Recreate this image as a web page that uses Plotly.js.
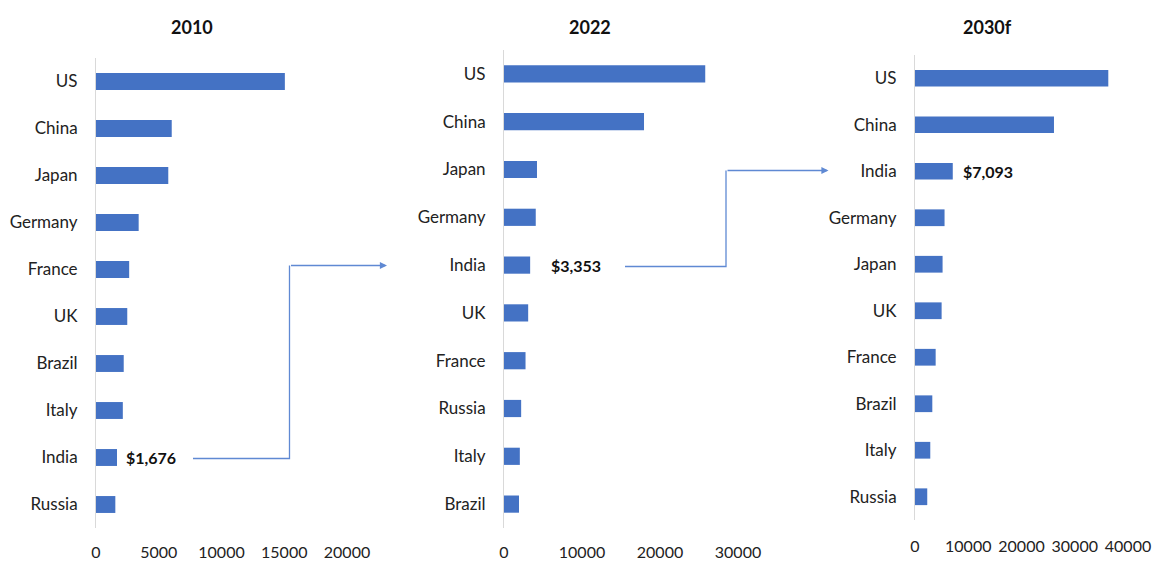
<!DOCTYPE html>
<html>
<head>
<meta charset="utf-8">
<script src="https://cdn.plot.ly/plotly-3.0.1.min.js"></script>
<style>html,body{margin:0;padding:0;background:#fff;}#chart{width:1152px;height:561px;}</style>
</head>
<body>
<div id="chart"></div>
<script>
// ---- data ----
const countries2010 = ["US","China","Japan","Germany","France","UK","Brazil","Italy","India","Russia"];
const gdp2010 = [15049, 6034, 5759, 3400, 2643, 2491, 2209, 2137, 1676, 1540];

const countries2022 = ["US","China","Japan","Germany","India","UK","France","Russia","Italy","Brazil"];
const gdp2022 = [25800, 17950, 4230, 4070, 3353, 3100, 2760, 2200, 2030, 1920];

const countries2030 = ["US","China","India","Germany","Japan","UK","France","Brazil","Italy","Russia"];
const gdp2030 = [36300, 26100, 7093, 5550, 5180, 5000, 3880, 3250, 2870, 2300];

const panelTitles = ["2010","2022","2030f"];
const xTicks2010 = [0,5000,10000,15000,20000];
const xTicks2022 = [0,10000,20000,30000];
const xTicks2030 = [0,10000,20000,30000,40000];

// ---- layout helpers ----
const W = 1152, H = 561;
const px = v => v / W;
const py = v => 1 - v / H;
const FONT = "Lato, 'Open Sans', sans-serif";
const BAR = "#4472C4";
const LINE = "#5f89d3";

function barTrace(cats, vals, xa, ya) {
  return {type:"bar", orientation:"h", x: vals, y: cats, xaxis: xa, yaxis: ya,
          marker:{color:BAR}, hoverinfo:"x+y", showlegend:false};
}

const data = [
  barTrace(countries2010, gdp2010, "x", "y"),
  barTrace(countries2022, gdp2022, "x2", "y2"),
  barTrace(countries2030, gdp2030, "x3", "y3")
];

function xAxis(dom, anchor, ticks, maxv, standoff) {
  return {domain: dom, anchor: anchor, range:[0, maxv], tickvals: ticks, ticktext: ticks.map(String),
          showgrid:false, zeroline:false, showline:false, ticks:"", ticklabelstandoff: standoff,
          tickfont:{family:FONT, size:16, color:"#222"}, fixedrange:true};
}
function yAxis(dom, anchor, cats) {
  return {domain: dom, anchor: anchor, type:"category", categoryorder:"array", categoryarray: cats,
          autorange:"reversed", showgrid:false, zeroline:false, showline:true, linecolor:"#d9d9d9", linewidth:1,
          ticks:"", ticklabelstandoff: 14, tickfont:{family:FONT, size:17, color:"#222"}, fixedrange:true};
}

const titleXs = [192, 590, 987];
const annotations = panelTitles.map((t,i) => ({
  text: "<b>"+t+"</b>", xref:"paper", yref:"paper", x: px(titleXs[i]), y: py(27),
  xanchor:"center", yanchor:"middle", showarrow:false, font:{family:FONT, size:18, color:"#111"}
}));

// value labels for India
annotations.push({text:"<b>$1,676</b>", xref:"x", yref:"y", x: gdp2010[countries2010.indexOf("India")], y:"India",
  xanchor:"left", yanchor:"middle", xshift:7, showarrow:false, font:{family:FONT, size:16, color:"#111"}});
annotations.push({text:"<b>$3,353</b>", xref:"x2", yref:"y2", x: gdp2022[countries2022.indexOf("India")], y:"India",
  xanchor:"left", yanchor:"middle", xshift:19, showarrow:false, font:{family:FONT, size:16, color:"#111"}});
annotations.push({text:"<b>$7,093</b>", xref:"x3", yref:"y3", x: gdp2030[countries2030.indexOf("India")], y:"India",
  xanchor:"left", yanchor:"middle", xshift:8, showarrow:false, font:{family:FONT, size:16, color:"#111"}});

// connector arrowheads (last segment)
annotations.push({text:"", xref:"paper", yref:"paper", x: px(387), y: py(265.5), ax: -97.5, ay: 0,
  showarrow:true, arrowhead:2, arrowsize:1.1, arrowwidth:1.3, arrowcolor:LINE, standoff:0});
annotations.push({text:"", xref:"paper", yref:"paper", x: px(828.5), y: py(170.5), ax: -102.5, ay: 0,
  showarrow:true, arrowhead:2, arrowsize:1.1, arrowwidth:1.3, arrowcolor:LINE, standoff:0});

function pathPx(points) {
  return points.map((p,i) => (i?"L ":"M ") + px(p[0]).toFixed(5) + " " + py(p[1]).toFixed(5)).join(" ");
}
const shapes = [
  {type:"path", xref:"paper", yref:"paper", path: pathPx([[193,458.5],[289.5,458.5],[289.5,265.5]]),
   line:{color:LINE, width:1.3}},
  {type:"path", xref:"paper", yref:"paper", path: pathPx([[625,266.5],[726,266.5],[726,170.5]]),
   line:{color:LINE, width:1.3}}
];

const layout = {
  width: W, height: H, margin:{l:0,r:0,t:0,b:0},
  paper_bgcolor:"#fff", plot_bgcolor:"rgba(0,0,0,0)",
  bargap: 0.64, showlegend:false,
  font:{family:FONT, size:16, color:"#222"},
  xaxis: xAxis([px(96), px(347)], "y", xTicks2010, 20000, 13),
  yaxis: yAxis([py(528), py(58)], "x", countries2010),
  xaxis2: xAxis([px(504), px(738)], "y2", xTicks2022, 30000, 13),
  yaxis2: yAxis([py(528), py(50)], "x2", countries2022),
  xaxis3: xAxis([px(915), px(1128)], "y3", xTicks2030, 40000, 15),
  yaxis3: yAxis([py(520), py(55)], "x3", countries2030),
  annotations: annotations,
  shapes: shapes
};

Plotly.newPlot("chart", data, layout, {displayModeBar:false, staticPlot:true});
</script>
</body>
</html>
